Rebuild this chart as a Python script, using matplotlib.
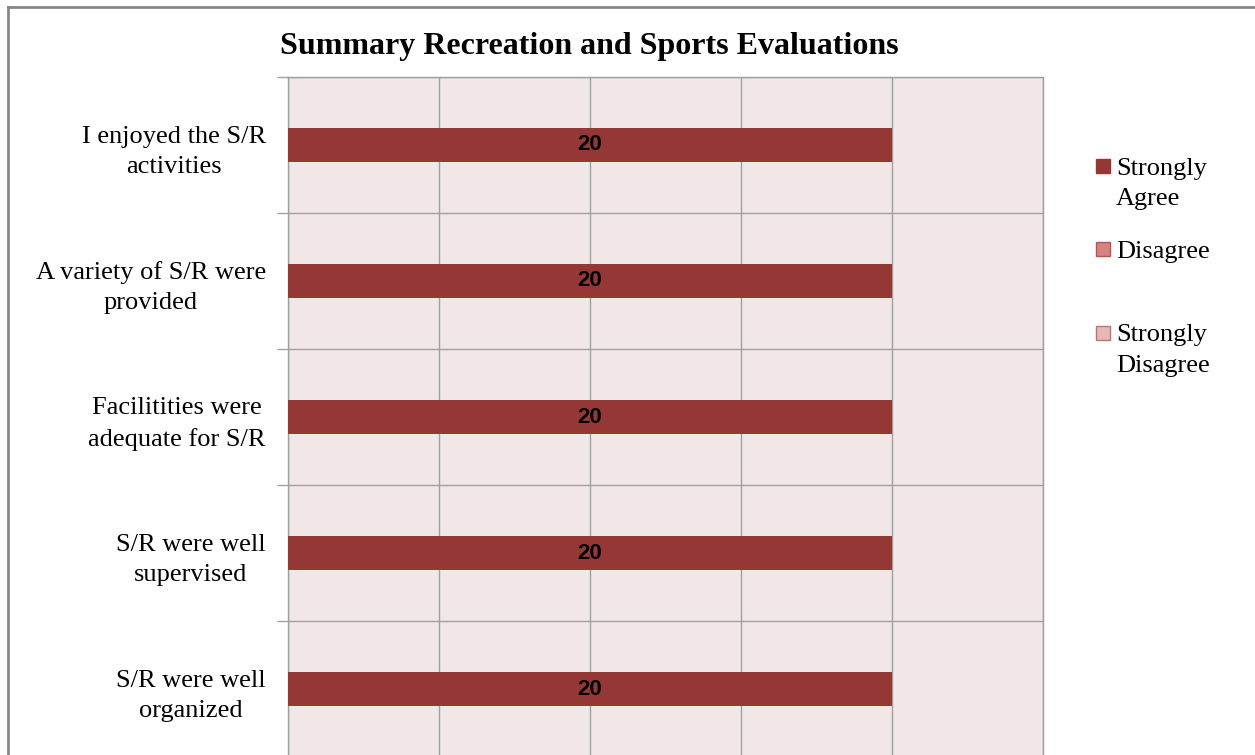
import matplotlib
matplotlib.use("Agg")
import matplotlib.pyplot as plt
from matplotlib.patches import Rectangle
from matplotlib.lines import Line2D
from matplotlib.ticker import MultipleLocator
import numpy as np

categories = [
    "I enjoyed the S/R\nactivities",
    "A variety of S/R were\nprovided",
    "Facilitities were\nadequate for S/R",
    "S/R were well\nsupervised",
    "S/R were well\norganized",
]
series_names = ["Strongly\nAgree", "Disagree", "Strongly\nDisagree"]
strongly_agree = [20, 20, 20, 20, 20]
disagree = [0, 0, 0, 0, 0]
strongly_disagree = [0, 0, 0, 0, 0]
series_values = [strongly_agree, disagree, strongly_disagree]
colors = ["#953735", "#D38482", "#E6B9B8"]
edgecolors = ["#953735", "#B85450", "#C0706E"]

W, H = 1255, 755
fig = plt.figure(figsize=(W / 100, H / 100), dpi=100)
fig.patch.set_facecolor("white")

def px(x0, y0, x1, y1):
    return [x0 / W, 1 - y1 / H, (x1 - x0) / W, (y1 - y0) / H]

ax = fig.add_axes(px(288, 77, 1043, 757))
ax.set_facecolor("#F2E7E7")

y = np.arange(len(categories))
left = np.zeros(len(categories))
for vals, c in zip(series_values, colors):
    vals = np.array(vals, dtype=float)
    bars = ax.barh(y, vals, left=left, height=0.25, color=c, edgecolor="none", zorder=3)
    for b, v in zip(bars, vals):
        if v > 0:
            ax.text(b.get_x() + b.get_width() / 2, b.get_y() + b.get_height() / 2,
                    f"{v:g}", ha="center", va="center", fontsize=16,
                    fontweight="bold", color="black", family="Liberation Sans",
                    zorder=4)
    left += vals

ax.set_xlim(0, 25)
ax.set_ylim(len(categories) - 0.5, -0.5)
ax.xaxis.set_major_locator(MultipleLocator(5))
ax.set_yticks(y)
ax.set_yticks(np.arange(-0.5, len(categories), 1), minor=True)
ax.set_yticklabels(categories, fontsize=19, family="Liberation Serif",
                   multialignment="center", linespacing=1.5)
ax.tick_params(axis="y", which="major", length=0, pad=16)
ax.tick_params(axis="y", which="minor", length=8, color="#A0A0A0", width=1)
ax.tick_params(axis="x", which="both", length=0, labelbottom=False)
ax.grid(True, axis="x", which="major", color="#A0A0A0", linewidth=1, zorder=1)
ax.grid(True, axis="y", which="minor", color="#A0A0A0", linewidth=1, zorder=1)
ax.set_axisbelow(True)
for s in ax.spines.values():
    s.set_color("#A0A0A0")
    s.set_linewidth(1)

fig.text(589 / W, 1 - 54 / H, "Summary Recreation and Sports Evaluations",
         ha="center", va="baseline", fontsize=23, fontweight="bold",
         family="Liberation Serif")

# legend (swatch aligned with the first text line)
leg_first_baselines = [175, 258, 342]
line_gap = 30
for name, c, ec, base in zip(series_names, colors, edgecolors, leg_first_baselines):
    fig.add_artist(Rectangle((1096 / W, 1 - (base - 2) / H), 14 / W, 14 / H,
                             transform=fig.transFigure, facecolor=c,
                             edgecolor=ec, linewidth=1))
    last_base = base + line_gap * name.count("\n")
    fig.text(1116 / W, 1 - last_base / H, name, ha="left", va="baseline", fontsize=19,
             family="Liberation Serif", linespacing=1.5)

# chart border
fig.add_artist(Line2D([8 / W, 8 / W], [0, 1 - 7 / H], transform=fig.transFigure,
                      color="#878787", linewidth=2))
fig.add_artist(Line2D([8 / W, 1], [1 - 7 / H, 1 - 7 / H], transform=fig.transFigure,
                      color="#878787", linewidth=2))

fig.savefig("out.png", dpi=100)
